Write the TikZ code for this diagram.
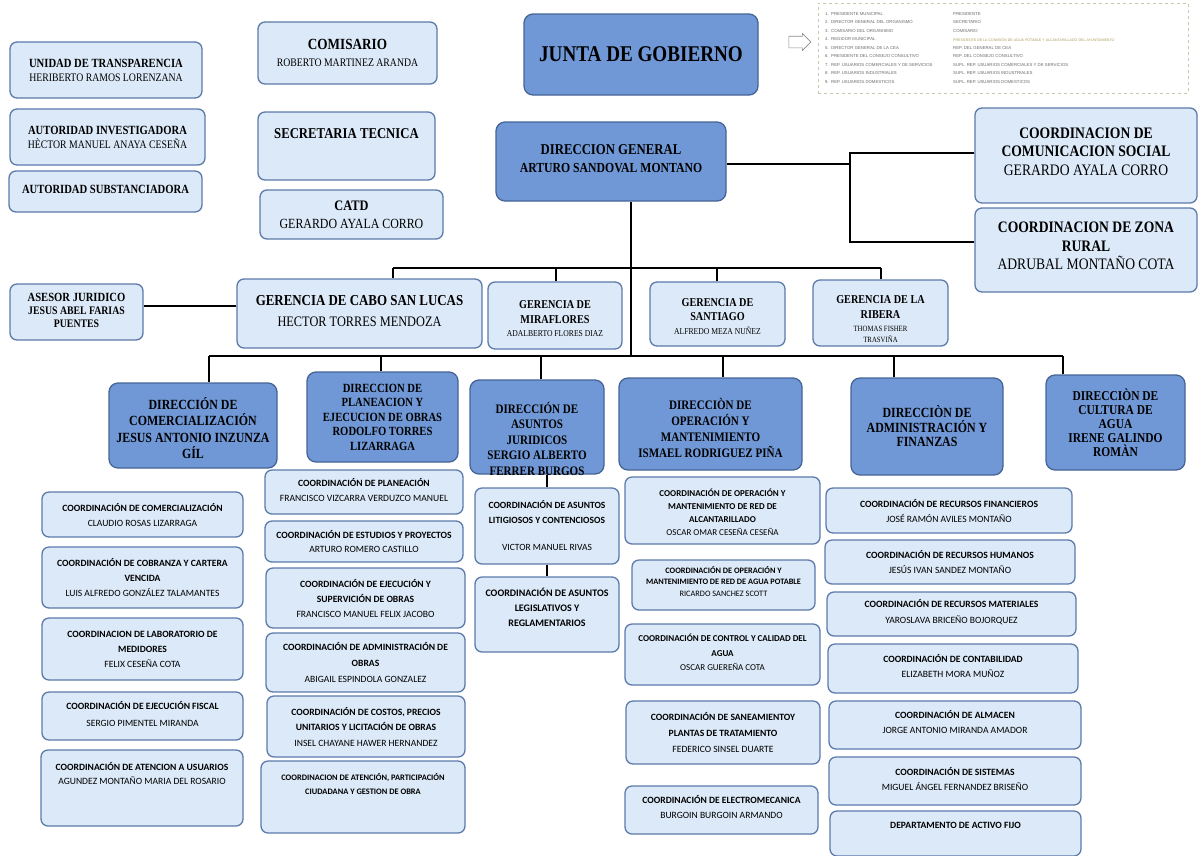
\documentclass[tikz,border=0pt]{standalone}
\usepackage{fontspec}
\setmainfont{Liberation Serif}
\newfontfamily\SerC[FakeStretch=0.85]{Liberation Serif}
\newfontfamily\CarL{Carlito}
\newfontfamily\LegF{Liberation Sans}
\usetikzlibrary{shapes.arrows}
\definecolor{lfill}{RGB}{220,233,248}
\definecolor{lline}{RGB}{92,122,170}
\definecolor{dfill}{RGB}{112,152,214}
\definecolor{dline}{RGB}{70,100,150}
\definecolor{legc}{RGB}{200,200,175}
\definecolor{legt}{RGB}{105,105,105}
\definecolor{legy}{RGB}{170,155,90}
\definecolor{arrc}{RGB}{140,140,140}
\newcommand{\Bd}[1]{{\bfseries #1}}
\newcommand{\Nm}[2]{{\mdseries\fontsize{#1}{#1}\selectfont #2}}
\newcommand{\Sz}[2]{{\fontsize{#1}{#1}\selectfont #2}}
\tikzset{
  lbox/.style={draw=lline, fill=lfill, line width=1.3pt, rounded corners=7pt, inner sep=0pt},
  dbox/.style={draw=dline, fill=dfill, line width=1.3pt, rounded corners=9pt, inner sep=0pt},
  txt/.style={align=center, inner sep=0pt, text=black},
  ttl/.style 2 args={font=\SerC\bfseries\fontsize{#1}{#2}\selectfont},
  cbx/.style 2 args={font=\CarL\fontsize{#1}{#2}\selectfont},
  conn/.style={draw=black, line width=1.4pt},
  lgt/.style={font=\LegF\fontsize{4.3}{5}\selectfont, text=legt, anchor=west, inner sep=0pt},
}
\newcommand{\bx}[9][0]{%
  \node[#2, minimum width={(#7-#5)*1pt}, minimum height={(#8-#6)*1pt}] (#4) at ({(#5+#7)/2},{(#6+#8)/2}) {};
  \node[txt, #3] (#4t) at ([yshift={-(#1)*1pt}]#4.center) {#9};
}
\begin{document}
\begin{tikzpicture}[x=1pt, y=-1pt]
\useasboundingbox (0,0) rectangle (1201,855);
\fill[white] (0,0) rectangle (1201,855);

% top left
\bx{lbox}{ttl={12.5}{14}}{ut}{10}{42}{202}{98}{UNIDAD DE TRANSPARENCIA\\\Nm{11.5}{HERIBERTO RAMOS LORENZANA}}
\bx{lbox}{ttl={12.5}{14}}{ai}{10}{109}{205}{165}{AUTORIDAD INVESTIGADORA\\\Nm{11.5}{HÈCTOR MANUEL ANAYA CESEÑA}}
\bx[-2.5]{lbox}{ttl={12.5}{14}}{asu}{9}{171}{202}{212}{AUTORIDAD SUBSTANCIADORA}
\bx{lbox}{ttl={15.5}{17}}{comi}{258}{22}{437}{84}{COMISARIO\\\Nm{11.5}{ROBERTO MARTINEZ ARANDA}}
\bx[-12]{lbox}{ttl={15}{17}}{sect}{258}{112}{435}{180}{SECRETARIA TECNICA}
\bx{lbox}{ttl={14.5}{18}}{catd}{260}{190}{443}{239}{CATD\\\Nm{14}{GERARDO AYALA CORRO}}

% top center
\bx{dbox}{ttl={22.5}{26}}{junta}{524}{14}{758}{95}{JUNTA DE GOBIERNO}
\node[single arrow, draw=arrc, fill=white, line width=0.6pt, minimum height=22pt, minimum width=17pt, single arrow head extend=2pt, inner xsep=0pt, inner ysep=4pt] (arr) at (797,42) {};
\node[draw=legc, dashed, line width=0.6pt, minimum width=370pt, minimum height=90pt, inner sep=0pt] (leg) at (1003,48) {};
\node[lgt] (l1a) at (825,14) {1.\ \ PRESIDENTE MUNICIPAL};
\node[lgt] (l1b) at (953,14) {PRESIDENTE};
\node[lgt] (l2a) at (825,22.5) {2.\ \ DIRECTOR GENERAL DEL ORGANISMO};
\node[lgt] (l2b) at (953,22.5) {SECRETARIO};
\node[lgt] (l3a) at (825,31) {3.\ \ COMISARIO DEL ORGANISMO};
\node[lgt] (l3b) at (953,31) {COMISARIO};
\node[lgt] (l4a) at (825,39.5) {4.\ \ REGIDOR MUNICIPAL};
\node[lgt, text=legy, font=\LegF\fontsize{3.6}{4}\selectfont] (l4b) at (953,39.5) {PRESIDENTE DE LA COMISIÓN DE AGUA POTABLE Y ALCANTARILLADO DEL AYUNTAMIENTO};
\node[lgt] (l5a) at (825,48) {5.\ \ DIRECTOR GENERAL DE LA CEA};
\node[lgt] (l5b) at (953,48) {REP. DEL GENERAL DE CEA};
\node[lgt] (l6a) at (825,56.5) {6.\ \ PRESIDENTE DEL CONSEJO CONSULTIVO};
\node[lgt] (l6b) at (953,56.5) {REP. DEL CONSEJO CONSULTIVO};
\node[lgt] (l7a) at (825,65) {7.\ \ REP. USUARIOS COMERCIALES Y DE SERVICIOS};
\node[lgt] (l7b) at (953,65) {SUPL. REP. USUARIOS COMERCIALES Y DE SERVICIOS};
\node[lgt] (l8a) at (825,73.5) {8.\ \ REP. USUARIOS INDUSTRIALES};
\node[lgt] (l8b) at (953,73.5) {SUPL. REP. USUARIOS INDUSTRIALES};
\node[lgt] (l9a) at (825,82) {9.\ \ REP. USUARIOS DOMESTICOS};
\node[lgt] (l9b) at (953,82) {SUPL. REP. USUARIOS DOMESTICOS};

\bx[-3]{dbox}{ttl={15}{18}}{dg}{496}{122}{726}{201}{DIRECCION GENERAL\\\Sz{13.8}{ARTURO SANDOVAL MONTANO}}
\bx[-4]{lbox}{ttl={16}{18.5}}{csoc}{975}{108}{1197}{203}{COORDINACION DE\\COMUNICACION SOCIAL\\\Nm{16}{GERARDO AYALA CORRO}}
\bx[-4]{lbox}{ttl={16}{18.5}}{zona}{975}{208}{1197}{292}{COORDINACION DE ZONA\\RURAL\\\Nm{16}{ADRUBAL MONTAÑO COTA}}

% gerencias
\bx[-2]{lbox}{ttl={12.5}{13}}{ase}{10}{284}{143}{340}{ASESOR JURIDICO\\\Sz{11.5}{JESUS ABEL FARIAS}\\\Sz{11.5}{PUENTES}}
\bx[-2]{lbox}{ttl={15.2}{21}}{cabo}{237}{279}{482}{348}{GERENCIA DE CABO SAN LUCAS\\\Nm{14.5}{HECTOR TORRES MENDOZA}}
\bx[3.5]{lbox}{ttl={12}{15}}{mira}{488}{282}{622}{349}{GERENCIA DE\\MIRAFLORES\\[-2pt]\Nm{9}{ADALBERTO FLORES DIAZ}}
\bx[3]{lbox}{ttl={12}{14}}{sant}{650}{282}{785}{346}{GERENCIA DE\\SANTIAGO\\\Nm{9}{ALFREDO MEZA NUÑEZ}}
\bx[6.5]{lbox}{ttl={12}{15}}{rib}{813}{280}{948}{346}{GERENCIA DE LA\\RIBERA\\[-2pt]\Nm{8}{THOMAS FISHER}\\[-4pt]\Nm{8}{TRASVIÑA}}

% direcciones
\bx[2.5]{dbox}{ttl={14}{16.5}}{dcom}{109}{383}{277}{468}{DIRECCIÓN DE\\COMERCIALIZACIÓN\\JESUS ANTONIO INZUNZA\\GÍL}
\bx{dbox}{ttl={12.5}{14.5}}{dplan}{307}{372}{458}{462}{DIRECCION DE\\PLANEACION Y\\EJECUCION DE OBRAS\\RODOLFO TORRES\\LIZARRAGA}
\bx[11.5]{dbox}{ttl={13}{15.5}}{djur}{470}{380}{604}{474}{DIRECCIÓN DE\\ASUNTOS\\JURIDICOS\\SERGIO ALBERTO\\FERRER BURGOS}
\bx[3.5]{dbox}{ttl={13}{16}}{dope}{619}{378}{802}{470}{DIRECCIÒN DE\\OPERACIÓN Y\\MANTENIMIENTO\\ISMAEL RODRIGUEZ PIÑA}
\bx{dbox}{ttl={14}{14.5}}{dadm}{851}{378}{1003}{475}{DIRECCIÒN DE\\ADMINISTRACIÓN Y\\FINANZAS}
\bx{dbox}{ttl={13.5}{14}}{dcul}{1046}{375}{1185}{470}{DIRECCIÒN DE\\CULTURA DE\\AGUA\\IRENE GALINDO\\ROMÀN}

% coordinaciones comercializacion
\bx{lbox}{cbx={9.6}{15}}{c11}{42}{492}{243}{537}{\Bd{COORDINACIÓN DE COMERCIALIZACIÓN}\\CLAUDIO ROSAS LIZARRAGA}
\bx{lbox}{cbx={9.6}{15}}{c12}{42}{547}{243}{608}{\Bd{COORDINACIÓN DE COBRANZA Y CARTERA}\\\Bd{VENCIDA}\\LUIS ALFREDO GONZÁLEZ TALAMANTES}
\bx{lbox}{cbx={9.6}{15}}{c13}{42}{618}{243}{680}{\Bd{COORDINACION DE LABORATORIO DE}\\\Bd{MEDIDORES}\\FELIX CESEÑA COTA}
\bx[-2.5]{lbox}{cbx={9.6}{17}}{c14}{42}{692}{243}{740}{\Bd{COORDINACIÓN DE EJECUCIÓN FISCAL}\\SERGIO PIMENTEL MIRANDA}
\bx[-15]{lbox}{cbx={9.6}{14}}{c15}{41}{750}{243}{826}{\Bd{COORDINACIÓN DE ATENCION A USUARIOS}\\AGUNDEZ MONTAÑO MARIA DEL ROSARIO}

% coordinaciones planeacion
\bx[-2.5]{lbox}{cbx={9.6}{15}}{c21}{265}{470}{463}{514}{\Bd{COORDINACIÓN DE PLANEACIÓN}\\FRANCISCO VIZCARRA VERDUZCO MANUEL}
\bx{lbox}{cbx={9.6}{14}}{c22}{265}{521}{463}{562}{\Bd{COORDINACIÓN DE ESTUDIOS Y PROYECTOS}\\ARTURO ROMERO CASTILLO}
\bx{lbox}{cbx={9.6}{15}}{c23}{266}{568}{465}{628}{\Bd{COORDINACIÓN DE EJECUCIÓN Y}\\\Bd{SUPERVICIÓN DE OBRAS}\\FRANCISCO MANUEL FELIX JACOBO}
\bx{lbox}{cbx={9.6}{16}}{c24}{266}{633}{465}{692}{\Bd{COORDINACIÓN DE ADMINISTRACIÓN DE}\\\Bd{OBRAS}\\ABIGAIL ESPINDOLA GONZALEZ}
\bx{lbox}{cbx={9.6}{15.5}}{c25}{267}{696}{465}{757}{\Bd{COORDINACIÓN DE COSTOS, PRECIOS}\\\Bd{UNITARIOS Y LICITACIÓN DE OBRAS}\\INSEL CHAYANE HAWER HERNANDEZ}
\bx[-13]{lbox}{cbx={8.4}{14}}{c26}{261}{761}{465}{833}{\Bd{COORDINACION DE ATENCIÓN, PARTICIPACIÓN}\\\Bd{CIUDADANA Y GESTION DE OBRA}}

% coordinaciones juridicos
\bx{lbox}{cbx={9.5}{15}}{cj1}{475}{488}{619}{564}{\Bd{COORDINACIÓN DE ASUNTOS}\\\Bd{LITIGIOSOS Y CONTENCIOSOS}\\[12pt]VICTOR MANUEL RIVAS}
\bx[-7.5]{lbox}{cbx={10}{15}}{cj2}{475}{577}{619}{652}{\Bd{COORDINACIÓN DE ASUNTOS}\\\Bd{LEGISLATIVOS Y}\\\Bd{REGLAMENTARIOS}}

% coordinaciones operacion
\bx[2]{lbox}{cbx={9}{13}}{co1}{625}{477}{820}{544}{\Bd{COORDINACIÓN DE OPERACIÓN Y}\\\Bd{MANTENIMIENTO DE RED DE}\\\Bd{ALCANTARILLADO}\\OSCAR OMAR CESEÑA CESEÑA}
\bx[-3.5]{lbox}{cbx={8.3}{11.5}}{co2}{632}{560}{815}{610}{\Bd{COORDINACIÓN DE OPERACIÓN Y}\\\Bd{MANTENIMIENTO DE RED DE AGUA POTABLE}\\RICARDO SANCHEZ SCOTT}
\bx[-2]{lbox}{cbx={9}{14.5}}{co3}{625}{624}{820}{685}{\Bd{COORDINACIÓN DE CONTROL Y CALIDAD DEL}\\\Bd{AGUA}\\OSCAR GUEREÑA COTA}
\bx{lbox}{cbx={9.6}{16}}{co4}{626}{701}{820}{764}{\Bd{COORDINACIÓN DE SANEAMIENTOY}\\\Bd{PLANTAS DE TRATAMIENTO}\\FEDERICO SINSEL DUARTE}
\bx[-3.5]{lbox}{cbx={9.6}{15}}{co5}{625}{786}{818}{834}{\Bd{COORDINACIÓN DE ELECTROMECANICA}\\BURGOIN BURGOIN ARMANDO}

% coordinaciones administracion
\bx{lbox}{cbx={9.6}{15}}{ca1}{826}{488}{1072}{533}{\Bd{COORDINACIÓN DE RECURSOS FINANCIEROS}\\JOSÉ RAMÓN AVILES MONTAÑO}
\bx{lbox}{cbx={9.6}{15}}{ca2}{825}{540}{1075}{584}{\Bd{COORDINACIÓN DE RECURSOS HUMANOS}\\JESÚS IVAN SANDEZ MONTAÑO}
\bx[-2]{lbox}{cbx={9.6}{16}}{ca3}{827}{592}{1076}{636}{\Bd{COORDINACIÓN DE RECURSOS MATERIALES}\\YAROSLAVA BRICEÑO BOJORQUEZ}
\bx[-3]{lbox}{cbx={9.6}{15}}{ca4}{828}{644}{1078}{693}{\Bd{COORDINACIÓN DE CONTABILIDAD}\\ELIZABETH MORA MUÑOZ}
\bx[-3.5]{lbox}{cbx={9.6}{15}}{ca5}{829}{701}{1081}{749}{\Bd{COORDINACIÓN DE ALMACEN}\\JORGE ANTONIO MIRANDA AMADOR}
\bx[-2.5]{lbox}{cbx={9.6}{15}}{ca6}{829}{757}{1081}{805}{\Bd{COORDINACIÓN DE SISTEMAS}\\MIGUEL ÁNGEL FERNANDEZ BRISEÑO}
\bx[-8]{lbox}{cbx={9.6}{15}}{ca7}{830}{811}{1081}{856}{\Bd{DEPARTAMENTO DE ACTIVO FIJO}}

% connectors
\draw[conn] (dg.east |- 0,164) -- (850,164);
\draw[conn] (csoc.west |- 0,153) -| (850,242) -- (zona.west |- 0,242);
\draw[conn] (dg.south -| 631,0) -- (631,356);
\draw[conn] (393,268) -- (881,268);
\draw[conn] (cabo.north -| 393,0) -- (393,268);
\draw[conn] (mira.north -| 556,0) -- (556,268);
\draw[conn] (sant.north -| 717,0) -- (717,268);
\draw[conn] (rib.north -| 881,0) -- (881,268);
\draw[conn] (ase.east |- 0,306) -- (cabo.west |- 0,306);
\draw[conn] (209,356) -- (1063,356);
\draw[conn] (dcom.north -| 209,0) -- (209,356);
\draw[conn] (dplan.north -| 381,0) -- (381,356);
\draw[conn] (djur.north -| 541,0) -- (541,356);
\draw[conn] (dope.north -| 723,0) -- (723,356);
\draw[conn] (dadm.north -| 894,0) -- (894,356);
\draw[conn] (dcul.north -| 1063,0) -- (1063,356);
\draw[conn] (djur.south -| 547,0) -- (cj1.north -| 547,0);
\draw[conn] (cj1.south -| 547,0) -- (cj2.north -| 547,0);
\end{tikzpicture}
\end{document}
